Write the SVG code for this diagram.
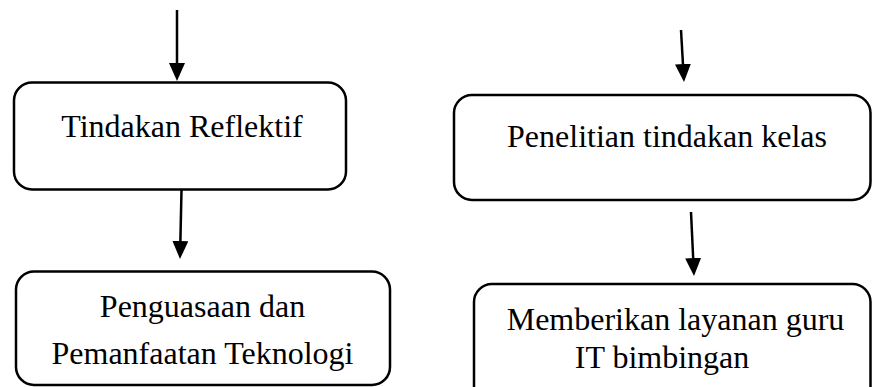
<svg xmlns="http://www.w3.org/2000/svg" width="872" height="387" viewBox="0 0 872 387">
<style>
.box{fill:#fff;stroke:#000;stroke-width:2.5}
.lbl{font-family:"Liberation Serif","Times New Roman",serif;font-size:32px;fill:#000;text-anchor:middle}
.conn{stroke:#000;stroke-width:2.5;fill:none}
</style>
<defs>
<marker id="ah" viewBox="0 0 18 16" markerWidth="18" markerHeight="16" refX="0" refY="8" orient="auto" markerUnits="userSpaceOnUse">
<path d="M0,0 L18,8 L0,16 z" fill="#000"/>
</marker>
</defs>
<rect width="872" height="387" fill="#fff"/>
<g id="n1">
<rect class="box" x="14" y="82.5" width="332" height="107" rx="18"/>
<text class="lbl" x="182" y="137">Tindakan Reflektif</text>
</g>
<g id="n2">
<rect class="box" x="454" y="95" width="416.5" height="105" rx="18"/>
<text class="lbl" x="667" y="147">Penelitian tindakan kelas</text>
</g>
<g id="n3">
<rect class="box" x="16" y="271.5" width="374" height="113.5" rx="18"/>
<text class="lbl" x="202.5" y="317">Penguasaan dan</text>
<text class="lbl" x="202.5" y="364">Pemanfaatan Teknologi</text>
</g>
<g id="n4">
<rect class="box" x="474" y="284" width="396.5" height="130" rx="18"/>
<text class="lbl" x="675.5" y="330">Memberikan layanan guru</text>
<text class="lbl" x="662" y="368">IT bimbingan</text>
</g>
<g id="connectors">
<line class="conn" x1="177" y1="10" x2="177" y2="63" marker-end="url(#ah)"/>
<line class="conn" x1="681" y1="30" x2="682.96" y2="64.03" marker-end="url(#ah)"/>
<line class="conn" x1="181.5" y1="190" x2="180.39" y2="241" marker-end="url(#ah)"/>
<line class="conn" x1="691" y1="212" x2="693.16" y2="258.02" marker-end="url(#ah)"/>
</g>
</svg>
